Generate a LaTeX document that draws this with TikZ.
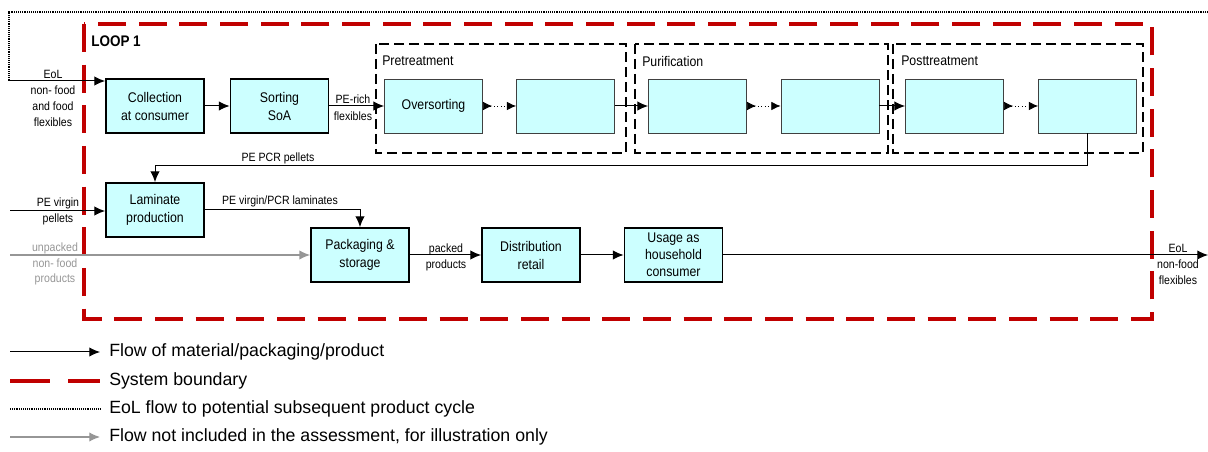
\documentclass[tikz,border=0pt]{standalone}
\usepackage{fontspec}
\setmainfont{Liberation Sans}
\newfontfamily\narrowfont{Liberation Sans}[FakeStretch=0.88]
\usetikzlibrary{arrows.meta}

\definecolor{boxcyan}{RGB}{204,255,255}
\definecolor{boundred}{RGB}{192,0,0}
\definecolor{flowgrey}{RGB}{150,150,150}

\tikzset{
  mainbox/.style={draw=black,line width=1.4pt,fill=boxcyan,minimum width=73.5pt,minimum height=40.5pt,
    align=center,inner sep=1pt,font=\narrowfont\fontsize{10.5}{13.5}\selectfont},
  procbox/.style={mainbox,draw=black!75,line width=0.6pt},
  groupbox/.style={draw=black,line width=1.8pt,dash pattern=on 7.5pt off 3.75pt},
  boundary/.style={draw=boundred,line width=2.5pt,dash pattern=on 21pt off 9.5pt},
  flow/.style={draw=black,line width=0.75pt,-{Latex[length=8pt,width=7pt]}},
  greyflow/.style={draw=flowgrey,line width=0.9pt,-{Latex[length=8pt,width=7pt]}},
  dotflow/.style={draw=black,line width=0.6pt,dotted,{Latex[reversed,length=7pt,width=6.5pt]}-{Latex[length=7pt,width=6.5pt]}},
  eolloop/.style={draw=black,line width=1.3pt,dash pattern=on 0.7pt off 0.7pt},
  smalllabel/.style={align=center,inner sep=0pt,font=\narrowfont\fontsize{9}{12}\selectfont},
  grouplabel/.style={anchor=west,inner sep=0pt,font=\narrowfont\fontsize{10.5}{12}\selectfont},
  legtext/.style={anchor=west,inner sep=0pt,font=\fontsize{13.3}{15}\selectfont}
}

\begin{document}
\begin{tikzpicture}[x=0.75pt,y=-0.75pt]
\useasboundingbox (0,0) rectangle (1208,452);

% system boundary
\draw[boundary] (84,24) rectangle (1152,319);
\node[anchor=west,inner sep=0pt,font=\narrowfont\bfseries\fontsize{11.5}{13}\selectfont] (loop) at (91,41) {LOOP 1};

% recycling steps
\draw[groupbox] (376,44) rectangle (626,153);
\draw[groupbox] (635,44) rectangle (888,153);
\draw[groupbox] (893,44) rectangle (1143,153);
\node[grouplabel] (pretlab) at (382,61) {Pretreatment};
\node[grouplabel] (purilab) at (642,61) {Purification};
\node[grouplabel] (postlab) at (901,61) {Posttreatment};

\node[mainbox] (coll) at (155,106) {Collection\\at consumer};
\node[mainbox] (sort) at (279.5,106) {Sorting\\SoA};
\node[procbox] (over) at (433.5,106) {Oversorting};
\node[procbox] (pre2) at (565.5,106) {};
\node[procbox] (pur1) at (697.5,106) {};
\node[procbox] (pur2) at (830,106) {};
\node[procbox] (post1) at (954.5,106) {};
\node[procbox] (post2) at (1087.5,106) {};

\node[mainbox] (lam) at (155,210) {Laminate\\production};
\node[mainbox] (pack) at (360,255) {Packaging \&\\storage};
\node[mainbox] (dist) at (531,255) {Distribution\\retail};
\node[mainbox,font=\narrowfont\fontsize{10.5}{12.75}\selectfont] (use) at (673.5,255) {Usage as\\household\\consumer};

% loop back from end of life
\coordinate (loopa) at (1208,12);
\coordinate (loopb) at (9,12);
\coordinate (loopc) at (9,81);
\draw[eolloop] (loopa) -- (loopb) -- (loopc);
\draw[flow] (loopc) -- (coll.west |- loopc);
\node[smalllabel] (eolin) at (53,98) {EoL\\non- food\\and food\\flexibles};

\draw[flow] (coll) -- (sort);
\draw[flow] (sort) -- (over);
\node[smalllabel,font=\narrowfont\fontsize{9}{12.75}\selectfont] (richlab) at (353,108) {PE-rich\\flexibles};
\draw[dotflow] (over) -- (pre2);
\draw[flow] (pre2) -- (pur1);
\draw[dotflow] (pur1) -- (pur2);
\draw[flow] (pur2) -- (post1);
\draw[dotflow] (post1) -- (post2);

\draw[flow] (post2.south) -- ++(0,32) -| (lam.north);
\node[smalllabel] (pcrlab) at (278,158) {PE PCR pellets};

\coordinate (virgin) at (10,211);
\draw[flow] (virgin) -- (lam.west |- virgin);
\node[smalllabel] (virginlab) at (58,211.5) {PE virgin\\pellets};

\draw[flow] (lam.east) -| (pack.north);
\node[smalllabel] (laminlab) at (280,201) {PE virgin/PCR laminates};

\coordinate (unpacked) at (10,255);
\draw[greyflow] (unpacked) -- (pack.west);
\node[smalllabel,text=flowgrey,font=\narrowfont\fontsize{9}{11.6}\selectfont] (unpackedlab) at (55,264) {unpacked\\non- food\\products};

\draw[flow] (pack) -- (dist);
\node[smalllabel] (packedlab) at (446,257) {packed\\products};
\draw[flow] (dist) -- (use);

\coordinate (eolout) at (1208,255);
\draw[flow] (use) -- (eolout);
\node[smalllabel] (eoloutlab) at (1178,264) {EoL\\non-food\\flexibles};

% legend
\coordinate (la1) at (10,352); \coordinate (lb1) at (100,352);
\coordinate (la2) at (10,381); \coordinate (lb2) at (100,381);
\coordinate (la3) at (10,409); \coordinate (lb3) at (100,409);
\coordinate (la4) at (10,437); \coordinate (lb4) at (100,437);
\draw[flow] (la1) -- (lb1);
\draw[draw=boundred,line width=2.5pt,dash pattern=on 30pt off 13.5pt] (la2) -- (lb2);
\draw[eolloop] (la3) -- (lb3);
\draw[greyflow] (la4) -- (lb4);
\node[legtext] (leg1) at (109,352) {Flow of material/packaging/product};
\node[legtext] (leg2) at (109,381) {System boundary};
\node[legtext] (leg3) at (109,409) {EoL flow to potential subsequent product cycle};
\node[legtext] (leg4) at (109,437) {Flow not included in the assessment, for illustration only};

\end{tikzpicture}
\end{document}
